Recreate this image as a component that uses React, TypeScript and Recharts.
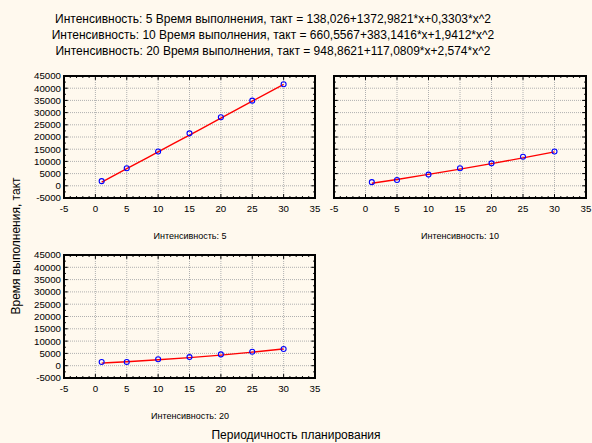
import React from 'react';
import {
  ComposedChart,
  Line,
  Scatter,
  XAxis,
  YAxis,
  CartesianGrid,
  ReferenceLine,
  ReferenceArea,
} from 'recharts';

// Периодичность планирования (x) for every panel
const periods = [1, 5, 10, 15, 20, 25, 30];

const obs5 = [1900, 7200, 14050, 21500, 28100, 34900, 41600];
const fit5 = [1500, 7000, 13900, 20800, 27700, 34700, 41600];
const obs10 = [1500, 2400, 4600, 7200, 9200, 11900, 14050];
const fit10 = [1050, 2600, 4700, 6850, 9100, 11450, 13900];
const obs20 = [1500, 1500, 2600, 3500, 4600, 5700, 6800];
const fit20 = [1050, 1600, 2400, 3300, 4300, 5500, 6800];

const xTicks = [-5, 0, 5, 10, 15, 20, 25, 30, 35];
const yTicks = [-5000, 0, 5000, 10000, 15000, 20000, 25000, 30000, 35000, 40000, 45000];

const titleLines = [
  'Интенсивность: 5 Время выполнения, такт = 138,026+1372,9821*x+0,3303*x^2',
  'Интенсивность: 10 Время выполнения, такт = 660,5567+383,1416*x+1,9412*x^2',
  'Интенсивность: 20 Время выполнения, такт = 948,8621+117,0809*x+2,574*x^2',
];

const X_MIN = -5;
const X_MAX = 35;
const Y_MIN = -5000;
const Y_MAX = 45000;

// minor tick positions on the frame
const xMinor: number[] = [];
for (let v = X_MIN; v <= X_MAX; v += 1) xMinor.push(v);
const yMinor: number[] = [];
for (let v = Y_MIN; v <= Y_MAX; v += 2500) yMinor.push(v);

const FONT = '"Liberation Sans", Arial, sans-serif';

interface PanelProps {
  obs: number[];
  fit: number[];
  showY: boolean;
  left: number;
  top: number;
  width: number;
  margin: { top: number; right: number; bottom: number; left: number };
}

const Circle = (props: any) => (
  <circle cx={props.cx} cy={props.cy} r={2.5} fill="none" stroke="#0000ff" strokeWidth={1.1} />
);

const Panel: React.FC<PanelProps> = ({ obs, fit, showY, left, top, width, margin }) => {
  const obsData = periods.map((x, i) => ({ x, y: obs[i] }));
  const fitData = periods.map((x, i) => ({ x, y: fit[i] }));

  // tick lengths in data units (frame ticks point inward)
  const yLenMajor = 1600;
  const yLenMinor = 800;
  const xLenMajor = 0.6;
  const xLenMinor = 0.3;

  return (
    <div style={{ position: 'absolute', left, top }}>
      <ComposedChart width={width} height={170} margin={margin}>
        <CartesianGrid stroke="#b0b0b0" strokeDasharray="1 1" />
        <XAxis
          type="number"
          dataKey="x"
          domain={[X_MIN, X_MAX]}
          ticks={xTicks}
          interval={0}
          allowDataOverflow
          axisLine={false}
          tickLine={false}
          tickSize={5}
          tickMargin={2}
          height={20}
          tick={{ fontSize: 9.7, fill: '#000' }}
        />
        <YAxis
          type="number"
          domain={[Y_MIN, Y_MAX]}
          ticks={yTicks}
          interval={0}
          allowDataOverflow
          hide={!showY}
          width={64}
          axisLine={false}
          tickLine={false}
          tickSize={2}
          tickMargin={1}
          tick={{ fontSize: 9.7, fill: '#000' }}
        />
        {xMinor.map((v) => {
          const len = v % 5 === 0 ? yLenMajor : yLenMinor;
          return (
            <React.Fragment key={'x' + v}>
              <ReferenceLine segment={[{ x: v, y: Y_MIN }, { x: v, y: Y_MIN + len }]} stroke="#000" strokeWidth={1} />
              <ReferenceLine segment={[{ x: v, y: Y_MAX }, { x: v, y: Y_MAX - len }]} stroke="#000" strokeWidth={1} />
            </React.Fragment>
          );
        })}
        {yMinor.map((v) => {
          const len = v % 5000 === 0 ? xLenMajor : xLenMinor;
          return (
            <React.Fragment key={'y' + v}>
              <ReferenceLine segment={[{ x: X_MIN, y: v }, { x: X_MIN + len, y: v }]} stroke="#000" strokeWidth={1} />
              <ReferenceLine segment={[{ x: X_MAX, y: v }, { x: X_MAX - len, y: v }]} stroke="#000" strokeWidth={1} />
            </React.Fragment>
          );
        })}
        <Line
          data={fitData}
          dataKey="y"
          type="monotone"
          stroke="#ff0000"
          strokeWidth={1.4}
          dot={false}
          activeDot={false}
          isAnimationActive={false}
        />
        <Scatter data={obsData} dataKey="y" shape={Circle} isAnimationActive={false} />
        <ReferenceArea
          x1={X_MIN}
          x2={X_MAX}
          y1={Y_MIN}
          y2={Y_MAX}
          fill="none"
          stroke="#000"
          strokeWidth={2}
        />
      </ComposedChart>
    </div>
  );
};

const smallLabel: React.CSSProperties = {
  position: 'absolute',
  fontSize: 9,
  transform: 'translateX(-50%)',
  whiteSpace: 'nowrap',
};

export default function App() {
  return (
    <div
      style={{
        position: 'absolute',
        left: 0,
        top: 0,
        width: 592,
        height: 443,
        background: '#fff9ee',
        fontFamily: FONT,
        color: '#000',
        overflow: 'hidden',
      }}
    >
      {titleLines.map((t, i) => (
        <div
          key={i}
          style={{
            position: 'absolute',
            left: 273,
            top: 11 + i * 16,
            transform: 'translateX(-50%)',
            fontSize: 12,
            lineHeight: '16px',
            whiteSpace: 'nowrap',
          }}
        >
          {t}
        </div>
      ))}

      <Panel obs={obs5} fit={fit5} showY left={0} top={60} width={330} margin={{ top: 16, right: 15, bottom: 12, left: 0 }} />
      <Panel obs={obs10} fit={fit10} showY={false} left={320} top={60} width={272} margin={{ top: 16, right: 6, bottom: 12, left: 14 }} />
      <Panel obs={obs20} fit={fit20} showY left={0} top={240} width={330} margin={{ top: 15, right: 15, bottom: 12, left: 0 }} />

      <div style={{ ...smallLabel, left: 190, top: 231 }}>Интенсивность: 5</div>
      <div style={{ ...smallLabel, left: 460, top: 231 }}>Интенсивность: 10</div>
      <div style={{ ...smallLabel, left: 190, top: 411 }}>Интенсивность: 20</div>

      <div
        style={{
          position: 'absolute',
          left: 16,
          top: 246,
          transform: 'translate(-50%, -50%) rotate(-90deg)',
          fontSize: 12,
          whiteSpace: 'nowrap',
        }}
      >
        Время выполнения, такт
      </div>
      <div
        style={{
          position: 'absolute',
          left: 296,
          top: 428,
          transform: 'translateX(-50%)',
          fontSize: 12,
          whiteSpace: 'nowrap',
        }}
      >
        Периодичность планирования
      </div>
    </div>
  );
}
